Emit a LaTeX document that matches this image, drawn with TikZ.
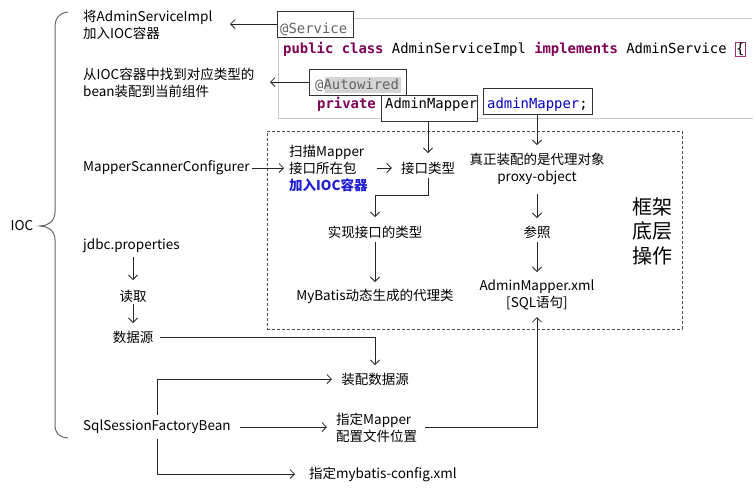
\documentclass[tikz,border=0pt]{standalone}
\usepackage{fontspec}
\setmainfont{Noto Sans CJK SC}
\newfontfamily\codefont{DejaVu Sans Mono}
\usetikzlibrary{arrows.meta}
\definecolor{kw}{HTML}{7F0055}
\definecolor{field}{HTML}{0000C0}
\definecolor{anno}{HTML}{646464}
\definecolor{hlgray}{HTML}{D4D4D4}
\definecolor{panelgray}{HTML}{C8C8C8}
\definecolor{bluetxt}{RGB}{30,30,210}
\begin{document}
\begin{tikzpicture}[x=1pt,y=-1pt,
  txt/.style={inner sep=0, font=\fontsize{13.5}{17}\selectfont},
  code/.style={inner sep=0, font=\codefont\fontsize{13.9}{16}\selectfont},
  cbox/.style={draw=black!80, fill=white, inner sep=0, line width=0.8pt},
  conn/.style={draw=black!85, line width=0.8pt},
  arr/.style={conn, -{Straight Barb[length=4.5pt,width=9pt]}},
  panel/.style={draw=panelgray, line width=0.8pt},
  framebox/.style={draw=black!70, dashed, dash pattern=on 3pt off 2pt, line width=0.8pt, inner sep=0},
  bracestyle/.style={draw=black!60, line width=1pt}]
\useasboundingbox (0,0) rectangle (756,488);

% ---------- code panel ----------
\draw[panel] (353,18) -- (752,18);
\draw[panel] (278,37) -- (278,118) -- (753,118);
\node[cbox, minimum width=76, minimum height=26] (svcbox) at (315,24) {};
\node[cbox, minimum width=97, minimum height=26] (autbox) at (357.5,82) {};
\node[cbox, minimum width=96, minimum height=26] (ambox) at (429,108) {};
\node[cbox, minimum width=109, minimum height=26] (fieldbox) at (537.5,101) {};
\fill[hlgray] (325,77) rectangle (401,93);

\node[code, anchor=base west, text=anno] (svct) at (280,33) {@Service};
\node[code, anchor=base west] (pub) at (283,53) {\textcolor{kw}{\bfseries public class} AdminServiceImpl \textcolor{kw}{\bfseries implements} AdminService};
\node[code, anchor=base west, draw=kw!80, inner sep=0.6pt] (brc) at ([xshift=8.4]pub.base east) {\{};
\node[code, anchor=base west, text=anno] (autt) at (315,89) {@Autowired};
\node[code, anchor=base west] (priv) at (317,108) {\textcolor{kw}{\bfseries private}};
\node[code, anchor=base west] (amt) at (385,108) {AdminMapper};
\node[code, anchor=base west, text=field] (fdt) at (487,108) {adminMapper\textcolor{black}{;}};

% ---------- brace ----------
\draw[bracestyle] (68,12) .. controls (59,13) and (55,18) .. (55,28) -- (55,212)
  .. controls (55,222) and (47,226) .. (40,226)
  .. controls (47,226) and (55,230) .. (55,240) -- (55,424)
  .. controls (55,434) and (59,437) .. (68,438);
\node[txt] (ioc) at (22,226) {IOC};

% ---------- left texts ----------
\node[txt, anchor=west, align=left] (t1) at (83,25) {将AdminServiceImpl\\加入IOC容器};
\node[txt, anchor=west, align=left] (t2) at (83,83) {从IOC容器中找到对应类型的\\bean装配到当前组件};
\node[txt, anchor=west] (msc) at (83,168) {MapperScannerConfigurer};
\node[txt, anchor=west] (jdbc) at (83,246) {jdbc.properties};
\node[txt] (duqu) at (133,296) {读取};
\node[txt] (sjy) at (133,337) {数据源};
\node[txt, anchor=west] (ssfb) at (83,427) {SqlSessionFactoryBean};

% ---------- framework box ----------
\node[framebox, minimum width=415, minimum height=198] (frame) at (474.5,230) {};
\node[txt, anchor=west, align=left] (scan) at (289,168) {扫描Mapper\\接口所在包\\{\color{bluetxt}\bfseries 加入IOC容器}};
\node[txt] (jklx) at (428,168) {接口类型};
\node[txt] (sxjk) at (375,232) {实现接口的类型};
\node[txt] (mybatis) at (375,296) {MyBatis动态生成的代理类};
\node[txt, align=center] (proxy) at (537,168.5) {真正装配的是代理对象\\proxy-object};
\node[txt] (cz) at (537,232) {参照};
\node[txt, align=center] (xml) at (537,295) {AdminMapper.xml\\{[}SQL语句{]}};
\node[inner sep=0, font=\fontsize{20}{24.5}\selectfont, align=center] (kj) at (652,231) {框架\\底层\\操作};

% ---------- bottom texts ----------
\node[txt] (zpsjy) at (375,379) {装配数据源};
\node[txt, anchor=west, align=left] (zdm) at (336,427.5) {指定Mapper\\配置文件位置};
\node[txt, anchor=west] (zdc) at (309,474) {指定mybatis-config.xml};

% ---------- coordinates for arrow tips ----------
\coordinate (a1) at (230,24);
\coordinate (a2) at (270,82);
\coordinate (a3) at (428,153);
\coordinate (a4) at (537,145);
\coordinate (a5) at (284,168);
\coordinate (k7) at (375,195);
\coordinate (a7) at (375,217);
\coordinate (a8) at (375,282);
\coordinate (a9) at (537,218);
\coordinate (a10) at (537,272);
\coordinate (a11) at (133,280);
\coordinate (a12) at (133,323);
\coordinate (a13) at (375,365);
\coordinate (a14) at (327,427);
\coordinate (v1) at (157,379);
\coordinate (v2) at (157,474);
\coordinate (a15) at (332,379);
\coordinate (a16) at (295,474);
\coordinate (a17) at (537,317);

% ---------- connectors ----------
\draw[arr] (svcbox.west) -- (a1);
\draw[arr] (autbox.west) -- (a2);
\draw[arr] (ambox.south -| a3) -- (a3);
\draw[arr] (fieldbox.south -| a4) -- (a4);
\draw[arr, shorten <=2] (msc.east) -- (a5);
\draw[arr, shorten <=9, shorten >=9] (scan.east |- jklx.west) -- (jklx.west);
\draw[arr, shorten <=4] (jklx.south) |- (k7) -- (a7);
\draw[arr, shorten <=4] (sxjk.south) -- (a8);
\draw[arr, shorten <=9] (proxy.south) -- (a9);
\draw[arr, shorten <=4] (cz.south) -- (a10);
\draw[arr, shorten <=4] (duqu.north |- jdbc.south) -- (a11);
\draw[arr, shorten <=2] (duqu.south) -- (a12);
\draw[arr, shorten <=7] (sjy.east) -| (a13);
\draw[arr, shorten <=9] (ssfb.east) -- (a14);
\draw[conn, shorten >=5] (v1) -- (v1 |- ssfb.north);
\draw[conn, shorten <=5] (v2 |- ssfb.south) -- (v2);
\draw[arr] (v1) -- (a15);
\draw[arr] (v2) -- (a16);
\draw[arr, shorten <=8] (zdm.east) -| (a17);
\end{tikzpicture}
\end{document}
